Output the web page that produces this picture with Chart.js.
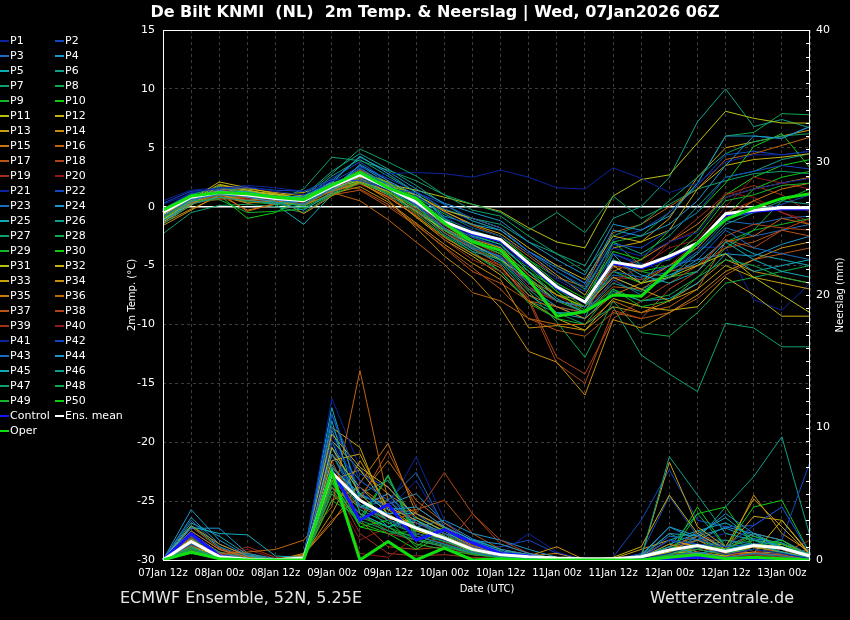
<!DOCTYPE html>
<html>
<head>
<meta charset="utf-8">
<title>De Bilt KNMI - 2m Temp. & Neerslag</title>
<script src="https://cdn.jsdelivr.net/npm/chart.js@4.4.1/dist/chart.umd.min.js"></script>
<style>
  html, body { margin: 0; padding: 0; background: #000; }
  #wrap { position: relative; width: 850px; height: 620px; background: #000; overflow: hidden;
          font-family: "DejaVu Sans", sans-serif; color: #fff; }
  #chart { position: absolute; left: 0; top: 0; }
  .txt { position: absolute; white-space: nowrap; }
  #title { left: 0; width: 870px; top: 3px; line-height: 18px; text-align: center; font-weight: bold; font-size: 16px; }
  .ytitle { width: 120px; height: 12px; line-height: 12px; font-size: 10px; text-align: center;
            transform: rotate(-90deg); transform-origin: 50% 50%; }
  #ylab { left: 72px; top: 289px; }
  #y2lab { left: 780px; top: 289px; }
  #xlab { left: 437px; width: 100px; top: 583px; line-height: 12px; font-size: 10px; text-align: center; }
  #src, #site { top: 589px; line-height: 18px; font-size: 16px; color: #e6e6e6; }
  #src { left: 120px; }
  #site { left: 650px; }
  .leg { position: absolute; height: 15px; line-height: 15px; font-size: 11px; white-space: nowrap; }
  .leg i { display: inline-block; width: 9px; height: 2px; vertical-align: middle; margin-right: 1px; }
</style>
</head>
<body>
<div id="wrap">
  <canvas id="chart" width="850" height="620"></canvas>
  <div id="title" class="txt">De Bilt KNMI&nbsp;&nbsp;(NL)&nbsp;&nbsp;2m Temp. &amp; Neerslag | Wed, 07Jan2026 06Z</div>
  <div id="legend"></div>
  <div id="ylab" class="txt ytitle">2m Temp. (°C)</div>
  <div id="y2lab" class="txt ytitle">Neerslag (mm)</div>
  <div id="xlab" class="txt">Date (UTC)</div>
  <div id="src" class="txt">ECMWF Ensemble, 52N, 5.25E</div>
  <div id="site" class="txt">Wetterzentrale.de</div>
</div>
<script>
// time steps, 6-hourly
var times = ['07Jan 12z','07Jan 18z','08Jan 00z','08Jan 06z','08Jan 12z','08Jan 18z',
             '09Jan 00z','09Jan 06z','09Jan 12z','09Jan 18z','10Jan 00z','10Jan 06z',
             '10Jan 12z','10Jan 18z','11Jan 00z','11Jan 06z','11Jan 12z','11Jan 18z',
             '12Jan 00z','12Jan 06z','12Jan 12z','12Jan 18z','13Jan 00z','13Jan 06z'];

var tempTicks = [-30, -25, -20, -15, -10, -5, 0, 5, 10, 15];
var rainTicks = [0, 10, 20, 30, 40];

// 2m temperature (C)
var meanTemp    = [-0.5,0.8,1.2,1.0,0.7,0.5,1.7,2.7,1.6,0.4,-1.3,-2.2,-2.8,-4.8,-6.8,-8.1,-4.7,-5.1,-4.2,-3.1,-0.6,-0.3,-0.1,-0.1];
var operTemp    = [-0.3,0.9,1.2,1.1,0.8,0.6,1.8,2.9,1.6,0.7,-1.4,-3.0,-3.7,-6.2,-9.3,-8.9,-7.5,-7.6,-5.4,-3.1,-1.1,-0.1,0.7,1.1];
var controlTemp = [-0.4,0.8,1.2,1.0,0.7,0.5,1.7,2.7,1.6,0.4,-1.3,-2.3,-2.9,-4.9,-6.9,-8.1,-4.8,-5.2,-4.3,-3.2,-0.7,-0.4,-0.2,-0.2];

// one row per member P1..P50
var memberTemp = [
  [-0.2,1.2,1.6,1.7,1.3,1.0,2.2,2.6,1.4,0.9,-0.5,-1.8,-2.5,-4.0,-6.0,-7.2,-3.5,-4.2,-3.0,-2.2,0.8,1.5,2.0,2.4],
  [0.3,1.3,1.5,1.6,1.4,1.3,2.3,2.2,1.5,1.2,0.2,-1.0,-1.8,-3.8,-5.5,-6.8,-3.2,-3.5,-2.0,-0.5,2.5,3.0,3.5,3.2],
  [-0.8,0.6,1.0,0.9,0.6,0.2,1.5,3.0,1.9,0.2,-1.8,-3.5,-4.2,-6.5,-8.0,-8.5,-5.5,-6.0,-5.0,-4.5,-2.0,-3.5,-4.0,-4.5],
  [-1.2,0.4,1.4,0.8,0.4,-0.3,1.2,3.6,2.2,1.0,-0.8,-1.5,-2.0,-3.8,-5.2,-6.5,-2.0,-2.5,-1.5,0.5,3.5,6.0,5.8,6.8],
  [-0.6,0.9,1.2,1.3,0.8,0.9,2.0,4.3,2.8,1.2,-1.0,-2.5,-3.2,-5.5,-7.8,-9.0,-4.5,-5.8,-6.5,-5.5,-3.0,-4.5,-5.5,-6.0],
  [-1.5,0.2,0.8,0.5,0.3,0.5,1.4,2.4,1.0,-0.3,-2.4,-3.8,-4.5,-7.0,-9.0,-9.0,-6.5,-7.2,-6.0,-4.0,-1.5,-0.5,0.5,0.2],
  [-0.9,0.7,1.3,1.0,0.9,0.8,2.8,4.9,3.8,2.6,1.0,-0.3,-0.8,-2.5,-4.0,-5.5,-2.5,-1.5,0.5,2.5,4.5,5.5,6.0,6.2],
  [-0.4,1.0,1.7,1.2,0.6,0.2,1.8,2.9,1.5,0.6,-1.2,-2.8,-3.8,-6.0,-8.0,-9.0,-7.0,-8.0,-7.5,-6.0,-4.5,-5.0,-6.0,-6.5],
  [-1.0,0.5,0.6,-0.5,-0.4,-0.2,1.0,2.0,1.2,0.0,-2.0,-3.0,-4.0,-5.5,-7.0,-8.5,-3.0,-5.0,-4.5,-2.5,0.5,1.0,1.8,2.0],
  [-0.3,0.8,1.0,-1.0,-0.5,0.8,1.9,3.0,2.0,0.8,-0.6,-1.8,-2.5,-4.5,-6.5,-7.8,-3.8,-4.5,-2.0,-0.5,2.0,5.1,6.2,3.3],
  [-1.1,0.5,1.9,1.4,1.0,0.6,1.6,2.2,1.3,-0.4,-2.0,-3.2,-4.5,-6.2,-8.0,-8.5,-5.0,-6.5,-6.0,-5.0,-4.0,-6.0,-7.5,-9.0],
  [-0.7,0.6,2.1,1.6,1.1,0.7,1.4,2.5,1.8,1.0,-0.3,-1.0,-1.8,-3.5,-5.0,-6.2,-2.5,-3.0,-2.0,1.5,3.5,4.0,4.2,4.5],
  [-1.3,0.1,1.8,1.5,1.2,0.9,1.6,2.8,1.6,0.3,-1.5,-2.8,-3.5,-5.8,-7.5,-8.5,-6.0,-7.0,-8.0,-7.0,-5.0,-6.0,-6.5,-7.0],
  [-1.6,-0.3,1.0,0.5,0.8,-0.6,0.9,2.1,0.6,-1.8,-4.2,-6.0,-8.6,-12.3,-13.2,-16.0,-9.6,-10.3,-9.0,-7.5,-5.5,-4.5,-3.5,-3.0],
  [-1.0,0.3,1.1,0.3,0.5,0.2,1.3,2.0,0.8,-0.8,-2.6,-4.0,-5.2,-7.5,-8.5,-9.5,-7.5,-6.5,-5.0,-3.5,-1.0,0.5,1.5,2.0],
  [-0.5,0.9,1.2,-0.4,0.3,1.0,1.2,0.5,-1.1,-3.0,-4.9,-7.3,-8.0,-9.5,-10.0,-10.0,-8.0,-9.0,-8.5,-7.0,-3.0,-2.5,-1.0,-1.5],
  [-0.8,0.4,0.7,0.8,0.9,0.5,1.8,1.5,0.2,-1.5,-3.5,-5.5,-6.5,-8.0,-8.5,-9.0,-6.8,-7.0,-5.5,-5.0,-3.5,-3.0,-2.0,-2.5],
  [-0.6,0.6,1.4,1.1,0.7,0.4,1.5,2.3,1.3,-0.5,-2.2,-3.5,-5.0,-8.0,-13.3,-15.0,-8.8,-9.5,-7.0,-5.5,-2.5,-1.5,-1.8,-2.0],
  [-0.4,0.5,0.9,0.6,0.4,0.6,1.3,1.9,0.9,-0.7,-2.8,-4.5,-5.5,-7.0,-8.0,-9.0,-5.0,-5.5,-3.0,-1.0,1.0,1.8,1.0,-0.5],
  [-0.9,0.3,0.6,0.7,0.6,0.3,1.6,2.4,1.0,-0.2,-1.6,-3.0,-4.2,-6.8,-8.0,-8.5,-6.5,-5.0,-3.5,-2.8,0.0,2.5,2.0,1.5],
  [0.5,1.4,1.6,1.8,1.6,1.3,1.9,2.2,2.8,2.9,2.8,2.5,3.1,2.5,1.6,1.5,3.3,2.4,1.2,2.0,3.8,4.4,4.4,4.7],
  [-0.2,1.1,1.4,1.2,0.9,0.7,2.4,3.8,2.2,0.5,-1.4,-2.6,-3.4,-5.0,-6.6,-8.2,-4.0,-5.0,-4.5,-3.0,-1.0,-0.5,0.2,1.0],
  [-0.7,0.8,1.3,1.1,0.8,0.3,1.7,3.3,1.8,0.1,-1.9,-3.3,-4.4,-6.8,-8.5,-9.0,-6.2,-7.5,-5.5,-4.0,-1.8,-2.5,-2.0,-1.5],
  [-1.0,0.6,1.2,0.9,0.7,0.4,2.2,4.2,3.0,1.5,0.3,-0.5,-1.2,-3.0,-4.5,-5.8,-1.5,-2.0,-0.8,2.0,6.0,6.0,5.8,6.8],
  [-1.2,0.3,0.8,0.6,0.2,-1.5,1.0,2.8,1.5,0.0,-2.2,-3.6,-4.8,-7.5,-9.0,-9.5,-7.2,-8.0,-7.8,-6.5,-4.0,-5.5,-5.0,-4.5],
  [-0.8,0.7,1.1,0.5,0.6,0.9,3.0,4.5,3.2,1.8,0.2,-1.2,-2.0,-3.8,-5.5,-7.0,-3.0,-4.0,-2.5,0.0,2.5,3.0,4.0,4.5],
  [-0.3,0.9,1.3,0.8,0.5,1.5,4.2,3.9,3.1,2.2,1.0,0.2,-0.5,-2.0,-0.5,-2.2,0.9,-1.0,0.2,1.5,2.2,2.8,3.0,2.8],
  [-0.6,0.6,1.0,0.7,0.3,0.1,1.5,2.6,1.4,-0.2,-2.0,-3.4,-4.6,-7.2,-9.8,-12.8,-8.0,-10.7,-11.0,-9.0,-6.5,-6.0,-5.5,-5.0],
  [-0.9,0.4,0.9,0.4,0.2,-0.1,1.2,2.2,1.1,-0.6,-2.5,-4.0,-5.5,-8.2,-9.5,-10.0,-7.0,-8.5,-8.0,-6.0,-3.5,-2.0,-1.5,-1.0],
  [-0.5,0.7,1.2,0.9,0.7,0.5,1.8,2.8,1.7,0.5,-1.2,-2.3,-3.0,-5.0,-7.2,-8.8,-5.5,-6.5,-4.0,-2.0,1.0,2.5,3.5,4.0],
  [-0.6,0.6,1.5,1.2,1.0,1.2,2.0,2.6,1.9,1.4,0.8,0.2,-0.4,-1.8,-3.0,-3.5,0.9,2.3,2.7,5.4,8.1,7.5,7.1,7.1],
  [-1.1,0.2,1.6,1.3,1.1,0.6,1.3,2.1,1.0,-0.9,-2.8,-4.2,-5.8,-8.0,-9.5,-10.5,-7.8,-8.5,-8.8,-8.5,-6.0,-7.5,-9.3,-9.3],
  [-0.8,0.5,1.7,1.4,0.9,0.8,1.9,2.9,2.1,0.9,-0.4,-1.5,-2.3,-4.0,-5.8,-7.5,-3.5,-3.0,-1.0,2.5,5.0,5.5,6.0,6.5],
  [-1.4,-0.2,0.9,0.3,0.6,0.1,1.1,1.7,0.4,-1.4,-3.2,-4.8,-6.2,-10.3,-10.1,-10.5,-8.5,-9.0,-8.0,-6.5,-4.5,-5.5,-6.0,-6.5],
  [-1.0,0.2,1.0,-0.3,0.2,0.4,1.4,2.4,1.2,-0.1,-1.8,-3.0,-4.0,-6.2,-7.5,-8.0,-5.5,-4.5,-3.0,-1.5,0.8,1.5,2.0,2.5],
  [-0.7,0.5,1.1,0.6,0.8,0.7,1.7,3.1,2.0,1.0,-0.4,-1.6,-2.5,-4.2,-6.0,-6.8,-2.2,-1.5,0.0,1.5,4.0,4.5,5.2,5.9],
  [-0.9,0.3,1.3,0.7,0.5,0.2,1.0,1.4,0.0,-1.6,-3.4,-5.2,-7.0,-9.5,-10.5,-11.0,-9.0,-9.5,-9.0,-7.8,-5.8,-4.5,-4.0,-3.5],
  [-0.5,0.7,1.2,1.0,0.6,0.3,1.6,2.0,0.8,-0.8,-2.6,-4.0,-5.0,-7.8,-12.8,-14.2,-9.5,-8.0,-6.5,-5.0,-2.8,-3.5,-2.0,-1.0],
  [-0.6,0.4,0.8,0.9,0.7,0.5,1.4,2.1,1.1,-0.3,-2.0,-3.6,-4.5,-6.5,-8.0,-8.5,-6.0,-6.2,-5.0,-3.0,-0.5,0.5,-0.5,-1.5],
  [-0.4,0.6,0.9,0.8,0.8,0.6,1.7,2.2,1.2,0.1,-1.4,-2.6,-3.6,-5.8,-7.5,-9.0,-5.2,-4.5,-3.0,-2.0,1.2,0.8,-0.5,-1.2],
  [0.2,1.1,1.5,1.3,1.0,0.7,2.0,2.8,1.7,0.7,-0.9,-2.0,-3.0,-4.8,-6.2,-7.5,-4.0,-4.8,-5.5,-3.5,-3.4,-7.9,-8.8,-6.5],
  [-0.3,0.9,1.3,1.1,0.9,0.8,2.1,3.4,2.4,1.3,-0.2,-1.2,-2.0,-3.8,-5.0,-6.5,-2.8,-2.0,-0.5,1.8,4.4,4.7,4.4,4.7],
  [-0.5,0.8,1.2,1.0,0.6,0.4,1.8,3.2,1.9,0.5,-1.5,-2.8,-3.8,-6.0,-8.0,-8.5,-5.8,-6.2,-5.5,-3.8,-1.2,-1.5,-1.0,-0.8],
  [-0.8,0.6,1.1,0.9,0.5,0.0,1.6,3.5,2.0,0.3,-1.6,-3.0,-4.0,-6.5,-8.0,-8.5,-6.0,-7.0,-6.0,-4.5,-4.0,-4.2,-3.2,-2.5],
  [-1.3,0.3,0.9,0.7,0.4,0.2,1.5,2.9,1.7,0.2,-1.8,-3.2,-4.3,-6.8,-8.5,-9.5,-4.0,-6.5,-5.8,-4.8,-2.8,-4.0,-4.5,-5.0],
  [-0.9,0.5,1.0,0.7,0.5,0.6,2.6,4.0,2.6,1.2,-0.2,-1.0,-1.5,-3.0,-4.0,-5.0,-1.0,0.0,2.5,7.2,10.0,6.8,7.4,6.7],
  [-2.3,-0.5,0.1,0.2,0.0,-0.5,1.0,2.4,1.5,-0.2,-2.2,-3.8,-5.5,-8.0,-9.0,-10.0,-8.5,-12.6,-14.2,-15.7,-9.9,-10.3,-11.9,-11.9],
  [-0.6,0.7,1.1,0.8,0.3,0.2,1.7,3.0,1.8,0.6,-1.0,-2.0,-2.8,-4.5,-6.0,-7.2,-3.0,-2.5,-0.5,2.0,6.0,6.3,7.9,7.8],
  [-0.4,0.6,1.0,0.9,0.7,0.3,1.5,2.6,1.5,0.2,-1.4,-2.6,-3.5,-5.2,-7.2,-9.0,-5.0,-5.5,-6.0,-5.5,-3.0,-2.0,0.5,1.5],
  [-0.7,0.5,1.3,1.0,0.6,0.5,1.9,2.7,1.6,0.4,-1.1,-2.4,-3.2,-5.5,-7.5,-8.5,-4.5,-5.5,-5.0,-3.5,-0.8,1.5,2.5,3.0]
];

// precipitation (mm per 6h)
var meanRain    = [0,1.4,0.25,0.05,0.02,0.15,6.6,4.5,3.3,2.4,1.65,0.8,0.4,0.25,0.15,0.1,0.1,0.25,0.75,1.1,0.65,1.1,0.9,0.3];
var operRain    = [0,0.6,0.1,0,0,0,6.7,0,1.4,0,0.9,0,0.1,0,0,0,0,0,0.2,0.4,0.1,0.2,0.1,0];
var controlRain = [0,2.0,0.3,0,0,0.1,6.8,3.0,4.2,1.5,2.3,1.3,0.5,0.3,0,0,0,0,0.1,0.2,0.1,0.1,0,0];

var memberRain = [
  [0,1.5,0.2,0,0,0.1,9.0,5.5,3.0,2.0,1.5,0.8,0.3,0.2,0,0,0,0.1,0.5,1.2,0.4,0.8,0.5,0.1],
  [0,1.8,0.3,0.1,0,0.2,11.0,6.0,4.5,2.8,2.0,1.0,0.4,0.3,0.1,0,0,0.2,1.5,1.2,1.0,2.6,4.0,0.5],
  [0,1.2,0.4,0,0,0.1,8.0,4.0,3.5,1.8,1.2,0.6,0.2,0.1,0,0,0,0,0.3,0.6,0.2,0.5,0.3,0],
  [0,3.8,1.5,0.3,0,0.2,7.0,5.0,3.8,4.0,2.5,1.5,1.2,0.5,0.1,0,0,0.3,2.5,1.8,3.5,2.0,0.8,0.2],
  [0,2.5,2.0,1.9,0.3,0.2,10.5,3.5,2.5,3.0,2.0,1.4,0.6,0.3,0.1,0,0,0.2,1.0,0.5,0.8,1.2,0.6,0.1],
  [0,1.0,0.1,0,0,0.1,6.5,4.2,3.0,2.5,1.8,0.8,0.3,0.1,0,0,0,0.2,7.8,4.9,2.0,1.5,1.0,0.5],
  [0,0.8,0.2,0,0,0.1,5.5,3.0,2.2,1.5,1.0,0.5,0.2,0.1,0,0,0,0.1,0.4,1.0,0.6,0.8,0.5,0.2],
  [0,0.6,0.1,0,0,0,5.0,2.8,6.4,2.0,1.4,0.7,0.3,0.1,0,0,0,0,0.2,0.8,0.4,1.5,0.6,0],
  [0,0.9,0.2,0,0,0,4.5,3.2,2.5,1.2,0.8,0.4,0.2,0.1,0,0,0,0,0.5,1.2,0.8,1.8,1.2,0.3],
  [0,0.5,0.1,0,0,0,6.0,2.5,3.0,1.0,2.5,0.5,0.2,0.1,0,0,0,0,0.3,3.5,4.0,1.0,1.5,0.2],
  [0,1.3,0.2,0,0,0.1,8.5,5.0,3.0,2.0,1.5,0.6,0.3,0.1,0,0,0,0.1,0.6,0.5,0.3,1.2,1.0,0.1],
  [0,1.0,0.3,0,0,0.2,9.5,7.0,5.5,3.2,2.2,1.0,0.4,0.2,0,0,0.2,1.0,4.9,2.0,0.8,0.5,3.0,0.4],
  [0,1.6,0.2,0,0,0.2,7.5,8.0,3.8,2.4,1.6,0.8,0.3,0.2,0,0,0,0.2,7.4,2.5,1.0,4.6,2.5,0.4],
  [0,2.6,1.2,0.3,0,0.3,3.5,7.5,4.0,3.0,1.8,0.9,0.5,0.3,1.0,0,0,0.2,1.2,0.6,0.3,1.0,0.6,0.2],
  [0,2.2,0.8,0.2,0,0.4,2.8,5.8,8.8,3.5,2.5,1.2,0.5,0.3,0.1,0,0,0,0.8,1.5,0.5,1.2,0.8,0.2],
  [0,1.4,0.5,0.6,0.8,1.5,4.0,14.3,4.5,2.8,2.0,1.0,0.4,0.2,0,0,0,0.1,0.4,0.8,0.4,0.6,0.3,0.1],
  [0,1.8,0.4,0,0,0.2,7.0,4.5,8.2,4.0,2.5,1.0,0.4,0.2,0,0,0,0,0.6,1.0,0.5,0.5,0.4,0],
  [0,1.1,0.3,0,0,0.1,6.0,4.0,3.0,3.5,6.6,3.5,1.5,0.5,0.1,0,0,0.1,0.3,0.5,0.3,0.8,0.5,1.5],
  [0,0.7,0.3,1.0,0.2,0,5.0,3.5,2.0,1.5,1.0,0.4,0.2,0.1,0,0,0,0,0.2,0.4,0.2,0.4,0.2,0],
  [0,0.9,0.2,0,0,0.1,6.5,0.5,0.2,1.8,1.3,0.6,0.2,0.1,0,0,0,0,0.3,0.5,0.3,0.6,0.8,0.1],
  [0,1.2,0.1,0,0,0,12.2,7.0,4.0,7.8,3.0,1.2,0.5,2.0,0.6,0,0.1,0.2,1.5,0.8,0.5,0.6,0.4,0.1],
  [0,2.0,0.5,0,0,0.1,10.0,6.5,5.5,3.0,2.0,1.0,0.4,0.2,0,0,0,0.5,4.8,1.8,1.0,1.2,1.5,7.4],
  [0,3.0,1.0,0.2,0,0.2,8.5,6.0,4.5,6.6,2.5,1.5,0.6,0.3,0.1,0,0,0.3,1.8,1.5,1.0,1.2,0.8,0.3],
  [0,2.4,2.4,0.5,0.1,0.2,9.0,4.0,5.0,2.5,3.0,2.0,1.5,0.8,0.2,0,0,0.4,2.5,1.5,2.5,2.0,1.5,0.4],
  [0,2.8,1.8,0.4,0,0.3,11.5,4.5,3.5,3.5,2.5,1.5,0.8,0.4,0.1,0,0,0.2,1.2,2.0,3.2,1.5,1.0,0.2],
  [0,1.6,0.6,0.1,0,0.1,7.0,5.0,6.0,3.0,1.5,0.8,0.3,0.2,0,0,0,0.3,1.0,3.5,1.0,2.0,1.0,0.3],
  [0,1.0,0.2,0,0,0.1,6.2,3.8,2.8,2.0,1.4,0.7,0.3,0.1,0,0,0,0.1,0.4,0.8,1.5,1.0,0.6,0.2],
  [0,0.8,0.1,0,0,0,5.8,3.5,2.5,1.6,1.1,0.5,0.2,0.1,0,0,0,0.2,0.5,1.0,0.6,0.4,0.3,0.1],
  [0,0.7,0.2,0,0,0,5.2,3.0,6.3,1.8,1.2,0.5,0.2,0.1,0,0,0,0,0.2,1.0,0.6,1.2,0.8,0.1],
  [0,0.6,0.1,0,0,0,6.8,2.5,2.0,0.8,2.0,0.6,0.3,0.1,0,0,0,0,0.4,4.0,1.0,4.0,4.5,0.5],
  [0,1.2,0.3,0,0,0.1,9.0,6.8,4.0,2.5,1.8,0.8,0.3,0.2,0,0,0,0,0.8,0.5,0.2,0.6,0.5,0.3],
  [0,1.4,0.4,0,0,0.2,8.0,5.5,3.5,2.2,1.6,0.7,0.3,0.2,0,0,0,0,0.5,1.0,0.4,0.8,1.2,0.4],
  [0,1.8,0.5,0,0,0.3,10.0,8.5,3.2,2.8,2.0,1.0,0.5,0.2,0,0,0.1,0.8,1.5,1.0,0.8,3.3,3.0,0.5],
  [0,2.0,0.6,0.1,0,0.5,6.0,6.8,5.0,3.5,2.4,1.1,0.5,0.3,0.5,0,0,0.3,1.5,1.0,0.5,4.9,2.0,0.6],
  [0,1.5,0.4,0,0,0.2,4.5,5.5,4.0,3.0,2.0,0.9,0.4,0.2,0,0,0,0,1.0,1.8,0.6,1.0,0.6,0.2],
  [0,2.5,0.9,0.2,0,0.4,3.0,4.8,7.5,4.5,2.8,1.4,0.6,0.3,0.2,0,0,0.2,0.6,2.2,0.8,2.0,1.5,0.3],
  [0,1.7,0.5,0,0,0.3,5.5,4.0,3.5,3.8,4.5,2.0,0.8,0.4,0.1,0,0,0.1,0.5,0.8,0.4,0.6,0.5,0.1],
  [0,1.3,0.4,0.5,0,0.1,7.5,3.0,1.0,0.8,1.0,3.5,1.2,0.5,0.1,0,0,0,0.3,0.6,0.3,0.5,0.4,0.8],
  [0,0.9,0.2,0.3,0,0,6.0,2.0,0.5,0.3,0.4,0.2,0.1,0,0,0,0,0,0.2,0.4,0.3,0.5,0.3,0],
  [0,1.0,0.3,0.8,0.1,0,5.5,1.5,2.5,1.2,0.8,0.4,0.2,0.1,0,0,0,0,0.2,0.5,0.2,0.4,0.3,0.1],
  [0,1.3,0.2,0,0,0,9.5,5.0,3.8,6.0,2.5,1.2,0.5,0.3,0.1,0,0,0,0.5,1.5,2.0,1.5,0.8,0.2],
  [0,1.9,0.4,0,0,0.1,8.5,4.0,5.0,2.8,1.8,0.9,1.0,1.5,0.5,0,0.2,3.0,6.8,3.0,2.5,2.6,4.0,0.5],
  [0,2.2,0.8,0.1,0,0.2,11.0,5.0,4.0,3.5,2.0,1.0,0.5,0.3,0.1,0,0,0.1,1.0,1.5,1.5,1.2,1.0,0.3],
  [0,3.2,1.2,0.3,0,0.2,9.8,4.8,4.2,5.0,2.8,1.6,0.8,0.4,0.1,0,0,0.2,2.0,1.8,2.4,1.6,1.3,0.4],
  [0,2.6,1.0,0.2,0,0.2,7.2,4.5,2.5,3.2,2.2,1.3,0.7,0.4,0.1,0,0,0.2,1.5,2.2,2.8,1.8,1.0,0.2],
  [0,1.5,0.5,0.1,0,0.1,8.0,4.5,3.0,2.0,1.5,0.8,0.3,0.2,0,0,0,0.2,0.5,1.5,4.0,6.3,9.3,1.8],
  [0,1.1,0.3,0,0,0.1,6.5,4.0,4.5,2.5,1.6,0.8,0.3,0.1,0,0,0,0.3,2.0,1.0,0.8,1.0,0.5,0.2],
  [0,0.8,0.2,0,0,0,5.5,3.5,2.2,1.8,1.2,0.6,0.2,0.1,0,0,0,0.1,0.5,1.8,1.0,1.5,1.2,0.2],
  [0,0.7,0.1,0,0,0,6.0,3.2,6.4,1.5,1.0,0.5,0.2,0.1,0,0,0,0,0.3,1.2,0.5,1.0,0.6,0.1],
  [0,0.6,0.2,0,0,0,5.8,2.8,2.0,2.2,1.5,0.6,0.2,0.1,0,0,0,0,0.4,1.5,0.8,1.2,0.8,0.1]
];

// member colours repeat every 20 members
var memberColors = ['#0c24a0','#1448c0','#1a6cc0','#1c94cc','#10aab8','#10a088','#10a06a','#10a84a','#12b42a','#10cc10',
                    '#b8c010','#c8b010','#c8a010','#c88c10','#c87810','#c06410','#b85414','#b04418','#a0301c','#901a1a'];
var controlColor = '#1414ff';
var operColor = '#10e010';
var meanColor = '#ffffff';
var gridColor = '#3c3c3c';

//***************//
// DATASETS
//***************//
var datasets = [];

function addPair(label, temp, rain, color, width, order) {
  datasets.push({ label: label, data: temp, yAxisID: 'y', borderColor: color, borderWidth: width, order: order });
  datasets.push({ label: label, data: rain, yAxisID: 'y2', borderColor: color, borderWidth: width, order: order });
}

addPair('Oper', operTemp, operRain, operColor, 3, 0);
addPair('Ens. mean', meanTemp, meanRain, meanColor, 3, 1);
addPair('Control', controlTemp, controlRain, controlColor, 3, 2);
for (var k = 0; k < memberTemp.length; k++) {
  addPair('P' + (k + 1), memberTemp[k], memberRain[k], memberColors[k % 20], 1, 3);
}

//***************//
// LEGEND
//***************//
var legendItems = [];
for (var m = 0; m < memberTemp.length; m++) {
  legendItems.push({ text: 'P' + (m + 1), color: memberColors[m % 20] });
}
legendItems.push({ text: 'Control', color: controlColor });
legendItems.push({ text: 'Ens. mean', color: meanColor });
legendItems.push({ text: 'Oper', color: operColor });

var legendBox = document.getElementById('legend');
legendItems.forEach(function (item, i) {
  var row = Math.floor(i / 2), col = i % 2;
  var el = document.createElement('div');
  el.className = 'leg';
  el.style.left = (col * 55) + 'px';
  el.style.top = (32.5 + row * 15) + 'px';
  el.innerHTML = '<i style="background:' + item.color + '"></i>' + item.text;
  legendBox.appendChild(el);
});

//***************//
// FRAME + MINOR TICKS
//***************//
var framePlugin = {
  id: 'frame',
  afterDraw: function (chart) {
    var ctx = chart.ctx, a = chart.chartArea, y2 = chart.scales.y2;
    ctx.save();
    ctx.strokeStyle = '#ffffff';
    ctx.lineWidth = 1;
    ctx.strokeRect(a.left + 0.5, a.top + 0.5, a.right - a.left - 1, a.bottom - a.top);
    ctx.beginPath();
    for (var v = y2.min; v <= y2.max; v++) {
      var py = Math.round(y2.getPixelForValue(v)) + 0.5;
      ctx.moveTo(a.right - 4, py);
      ctx.lineTo(a.right, py);
    }
    ctx.stroke();
    ctx.restore();
  }
};

var tickFont = { family: 'DejaVu Sans', size: 11 };
var dateFont = { family: 'DejaVu Sans', size: 10 };

function isZero(c) { return c.tick && c.tick.value === 0; }

new Chart(document.getElementById('chart'), {
  type: 'line',
  data: { labels: times, datasets: datasets },
  options: {
    responsive: false,
    animation: false,
    events: [],
    layout: { padding: { top: 30, left: 0, right: 0, bottom: 0 } },
    plugins: {
      legend: { display: false },
      tooltip: { enabled: false },
      title: { display: false }
    },
    elements: {
      point: { radius: 0 },
      line: { tension: 0 }
    },
    scales: {
      x: {
        type: 'category',
        grid: { color: gridColor, drawTicks: false },
        border: { display: false, dash: [3, 3] },
        ticks: {
          color: '#ffffff', font: dateFont, padding: 7, autoSkip: false, maxRotation: 0,
          callback: function (value) {
            var l = this.getLabelForValue(value);
            return /(00z|12z)$/.test(l) ? l : '';
          }
        },
        afterFit: function (s) { s.height = 60; }
      },
      y: {
        position: 'left',
        min: tempTicks[0],
        max: tempTicks[tempTicks.length - 1],
        afterBuildTicks: function (s) { s.ticks = tempTicks.map(function (v) { return { value: v }; }); },
        ticks: { color: '#ffffff', font: tickFont, padding: 8 },
        grid: {
          drawTicks: false,
          color: function (c) { return isZero(c) ? '#ffffff' : gridColor; },
          lineWidth: function (c) { return isZero(c) ? 1.5 : 1; }
        },
        border: { display: false, dash: function (c) { return (!c.tick || isZero(c)) ? [] : [3, 3]; } },
        afterFit: function (s) { s.width = 163; }
      },
      y2: {
        position: 'right',
        min: rainTicks[0],
        max: rainTicks[rainTicks.length - 1],
        afterBuildTicks: function (s) { s.ticks = rainTicks.map(function (v) { return { value: v }; }); },
        ticks: { color: '#ffffff', font: tickFont, padding: 6 },
        grid: { drawOnChartArea: false, drawTicks: false },
        border: { display: false },
        afterFit: function (s) { s.width = 40; }
      }
    }
  },
  plugins: [framePlugin]
});
</script>
</body>
</html>
